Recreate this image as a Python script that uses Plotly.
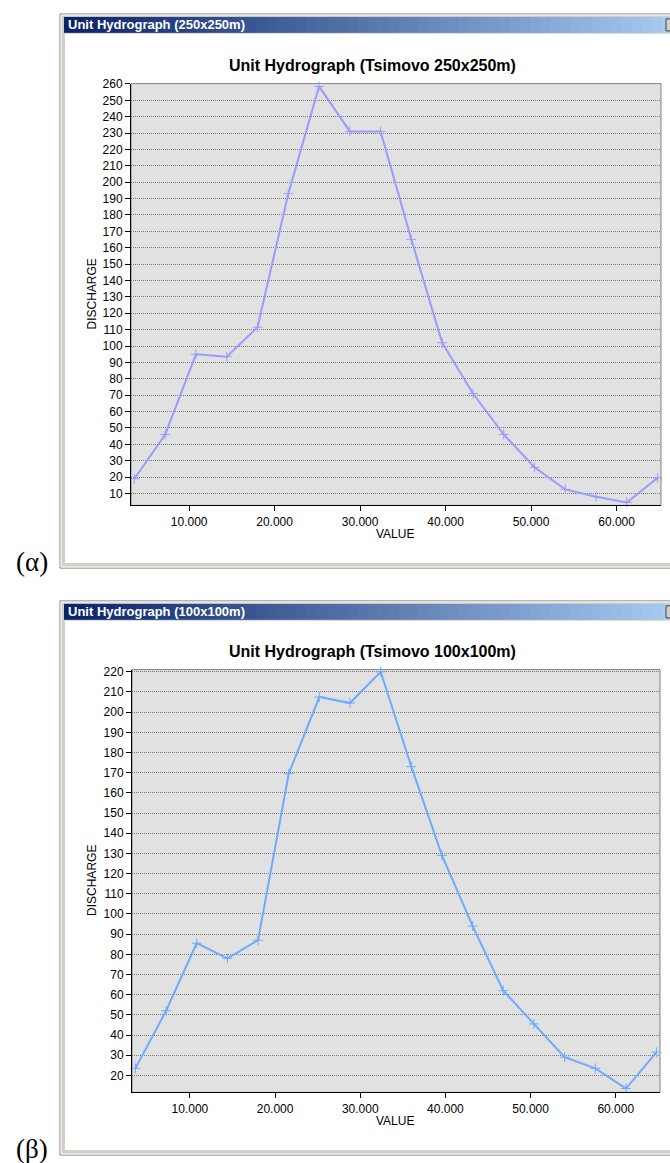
import plotly.graph_objects as go

W, H = 670, 1163

# ---------------- data ----------------
value_x = [3.6, 7.2, 10.8, 14.4, 18.0, 21.6, 25.2, 28.8, 32.4, 36.0,
           39.6, 43.2, 46.8, 50.4, 54.0, 57.6, 61.2, 64.8]
discharge_250 = [19, 46, 95, 93.5, 111.5, 193, 258.5, 231, 231, 165,
                 102, 71, 46, 26, 12.5, 8, 4.5, 19.5]
discharge_100 = [23.5, 52, 85.5, 78, 87, 169.5, 207.5, 204.5, 220, 173,
                 129, 94, 62, 45.5, 29, 23.5, 13.5, 31.5]
x_tickvals = [10, 20, 30, 40, 50, 60]
x_ticktext = ["10.000", "20.000", "30.000", "40.000", "50.000", "60.000"]

win_titles = ["Unit Hydrograph (250x250m)", "Unit Hydrograph (100x100m)"]
chart_titles = ["Unit Hydrograph (Tsimovo 250x250m)", "Unit Hydrograph (Tsimovo 100x100m)"]
panel_labels = ["(α)", "(β)"]
line_colors = ["#9b9bff", "#6eaaff"]


def fx(p):
    return p / W


def fy(p):
    return 1 - p / H


FONT = "Liberation Sans, Arial, sans-serif"

fig = go.Figure()
fig.add_trace(go.Scatter(x=value_x, y=discharge_250, mode="lines+markers",
                         line=dict(color=line_colors[0], width=2),
                         marker=dict(symbol="cross-thin", size=7,
                                     line=dict(color=line_colors[0], width=1)),
                         xaxis="x", yaxis="y", showlegend=False, cliponaxis=False))
fig.add_trace(go.Scatter(x=value_x, y=discharge_100, mode="lines+markers",
                         line=dict(color=line_colors[1], width=2),
                         marker=dict(symbol="cross-thin", size=7,
                                     line=dict(color=line_colors[1], width=1)),
                         xaxis="x2", yaxis="y2", showlegend=False, cliponaxis=False))

# panel geometry in pixels
panels = [
    dict(pl=131, pr=661, pt=78, pb=502, wt=8, wb=565, yr=[2.7, 260.2]),
    dict(pl=132, pr=660, pt=667, pb=1092, wt=598, wb=1155, yr=[11.6, 221.1]),
]

shapes = []
annotations = []
for i, p in enumerate(panels):
    wt, wb = p["wt"], p["wb"]
    # window frame
    shapes.append(dict(type="rect", xref="paper", yref="paper", layer="below",
                       x0=fx(60), x1=fx(672), y0=fy(wb), y1=fy(wt),
                       fillcolor="#d4d0c8", line=dict(color="#808080", width=1)))
    shapes.append(dict(type="rect", xref="paper", yref="paper", layer="below",
                       x0=fx(61), x1=fx(672), y0=fy(wb - 1), y1=fy(wt + 1),
                       fillcolor="#d4d0c8", line=dict(color="#ffffff", width=1)))
    # client area
    shapes.append(dict(type="rect", xref="paper", yref="paper", layer="below",
                       x0=fx(65), x1=fx(672), y0=fy(wb - 5), y1=fy(wt + 20),
                       fillcolor="#ffffff", line=dict(width=0)))
    # gradient title bar
    n = 60
    x_start, x_end = 64, 672
    c0 = (10, 36, 106)
    c1 = (166, 202, 240)
    for k in range(n):
        t = k / (n - 1)
        col = "rgb(%d,%d,%d)" % tuple(int(c0[j] + (c1[j] - c0[j]) * t) for j in range(3))
        xa = x_start + (x_end - x_start) * k / n
        xb = x_start + (x_end - x_start) * (k + 1) / n + 0.6
        shapes.append(dict(type="rect", xref="paper", yref="paper", layer="below",
                           x0=fx(xa), x1=fx(xb), y0=fy(wt + 19), y1=fy(wt + 3),
                           fillcolor=col, line=dict(width=0)))
    # close button stub
    shapes.append(dict(type="rect", xref="paper", yref="paper", layer="below",
                       x0=fx(666), x1=fx(672), y0=fy(wt + 17), y1=fy(wt + 5),
                       fillcolor="#d4d0c8", line=dict(color="#404040", width=1)))
    # plot background
    shapes.append(dict(type="rect", xref="paper", yref="paper", layer="below",
                       x0=fx(p["pl"]), x1=fx(p["pr"]), y0=fy(p["pb"]), y1=fy(p["pt"]),
                       fillcolor="#e1e1e1", line=dict(color="#808080", width=1)))

    annotations.append(dict(text="<b>%s</b>" % win_titles[i], xref="paper", yref="paper",
                            x=fx(66), y=fy(wt + 11), xanchor="left", yanchor="middle",
                            showarrow=False, font=dict(family=FONT, size=13, color="#ffffff")))
    annotations.append(dict(text="<b>%s</b>" % chart_titles[i], xref="paper", yref="paper",
                            x=fx(372), y=fy(p["pt"] - 18), xanchor="center", yanchor="middle",
                            showarrow=False, font=dict(family=FONT, size=16, color="#000000")))
    annotations.append(dict(text="DISCHARGE", xref="paper", yref="paper", textangle=-90,
                            x=fx(92), y=fy((p["pt"] + p["pb"]) / 2), xanchor="center",
                            yanchor="middle", showarrow=False,
                            font=dict(family=FONT, size=12, color="#000000")))
    annotations.append(dict(text="VALUE", xref="paper", yref="paper",
                            x=fx(395), y=fy(p["pb"] + 29), xanchor="center", yanchor="middle",
                            showarrow=False, font=dict(family=FONT, size=12, color="#000000")))
    annotations.append(dict(text=panel_labels[i], xref="paper", yref="paper",
                            x=fx(32), y=fy(wb - 6), xanchor="center", yanchor="middle",
                            showarrow=False,
                            font=dict(family="Liberation Serif, Times New Roman, serif",
                                      size=27, color="#000000")))

axis_common = dict(showline=True, linecolor="#000000", linewidth=1, ticks="outside",
                   ticklen=5, tickcolor="#000000", tickwidth=1, zeroline=False,
                   tickfont=dict(family=FONT, size=12, color="#000000"), fixedrange=True)

layout = dict(
    width=W, height=H, autosize=False,
    margin=dict(l=0, r=0, t=0, b=0),
    paper_bgcolor="#ffffff", plot_bgcolor="rgba(0,0,0,0)",
    shapes=shapes, annotations=annotations, showlegend=False,
)
for i, p in enumerate(panels):
    xs = "" if i == 0 else "2"
    layout["xaxis" + xs] = dict(axis_common, domain=[fx(p["pl"]), fx(p["pr"])],
                                range=[3.2, 65.2], anchor="y" + xs,
                                tickvals=x_tickvals, ticktext=x_ticktext, showgrid=False)
    layout["yaxis" + xs] = dict(axis_common, domain=[fy(p["pb"]), fy(p["pt"])],
                                range=p["yr"], anchor="x" + xs, tick0=0, dtick=10,
                                showgrid=True, gridcolor="#7a7a7a", griddash="1px,1px",
                                gridwidth=1)

fig.update_layout(**layout)
fig.write_html("out.html")
